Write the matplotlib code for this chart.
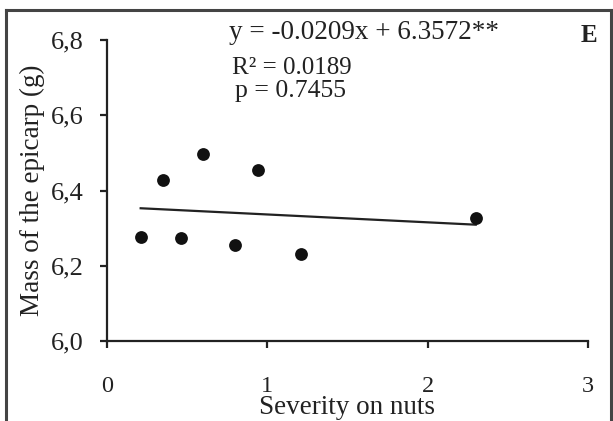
import matplotlib.pyplot as plt
from matplotlib.lines import Line2D
import numpy as np

plt.rcParams['font.family'] = ['Liberation Serif', 'DejaVu Serif']

INK = '#222222'
W, H = 613, 421

# values
severity = np.array([0.21, 0.35, 0.46, 0.60, 0.80, 0.94, 1.21, 2.30])
mass = np.array([6.277, 6.429, 6.274, 6.498, 6.254, 6.454, 6.230, 6.328])
slope, intercept = -0.0209, 6.3572
x_ticks = [0, 1, 2, 3]
y_ticks = [6.0, 6.2, 6.4, 6.6, 6.8]
y_tick_labels = ['6,0', '6,2', '6,4', '6,6', '6,8']


def px(x, y):
    return x / W, 1 - y / H


def generate_chart():
    fig = plt.figure(figsize=(W / 100, H / 100), dpi=100)
    fig.patch.set_facecolor('white')
    ax = fig.add_axes([107 / W, 1 - 341 / H, 481 / W, 301 / H])

    ax.scatter(severity, mass, s=85, color='#111111', zorder=3, linewidths=0)
    xs = np.array([severity.min(), severity.max()])
    ax.plot(xs, slope * xs + intercept, color=INK, linewidth=1.6)

    ax.set_xlim(0, 3)
    ax.set_ylim(6.0, 6.8)
    ax.set_xticks(x_ticks)
    ax.set_yticks(y_ticks)
    ax.set_yticklabels(y_tick_labels)

    for side in ['top', 'right']:
        ax.spines[side].set_visible(False)
    for side in ['left', 'bottom']:
        ax.spines[side].set_color(INK)
        ax.spines[side].set_linewidth(1.6)
    ax.tick_params(axis='x', direction='out', length=5, width=1.6, color=INK,
                   pad=20, labelsize=17.5, labelcolor=INK)
    ax.tick_params(axis='y', direction='out', length=5, width=1.6, color=INK,
                   pad=12, labelsize=19, labelcolor=INK)

    # the reference crops the descenders here; keep it just inside the edge
    ax.set_xlabel('Severity on nuts', fontsize=19.5, color=INK, va='bottom')
    ax.xaxis.set_label_coords(0.5, -79 / 301)
    ax.set_ylabel('Mass of the epicarp (g)', fontsize=19.5, color=INK, va='center')
    ax.yaxis.set_label_coords(-0.156, 0.5)

    fig.text(*px(229, 39), 'y = -0.0209x + 6.3572**', fontsize=19.5, color=INK,
             va='baseline', ha='left')
    fig.text(*px(232, 74), 'R² = 0.0189', fontsize=18, color=INK,
             va='baseline', ha='left')
    fig.text(*px(235, 97), 'p = 0.7455', fontsize=18.5, color=INK,
             va='baseline', ha='left')
    fig.text(*px(581, 42), 'E', fontsize=18, fontweight='bold', color=INK,
             va='baseline', ha='left')

    # outer frame, open at the bottom
    frame = dict(color='#444444', linewidth=2.2, transform=fig.transFigure)
    fig.add_artist(Line2D([6 / W, 6 / W], [0, 1 - 10 / H], **frame))
    fig.add_artist(Line2D([6 / W, 611 / W], [1 - 10 / H, 1 - 10 / H], **frame))
    fig.add_artist(Line2D([611 / W, 611 / W], [0, 1 - 10 / H], **frame))

    fig.savefig('out.png', dpi=100, facecolor='white')
    plt.close(fig)


if __name__ == '__main__':
    generate_chart()
